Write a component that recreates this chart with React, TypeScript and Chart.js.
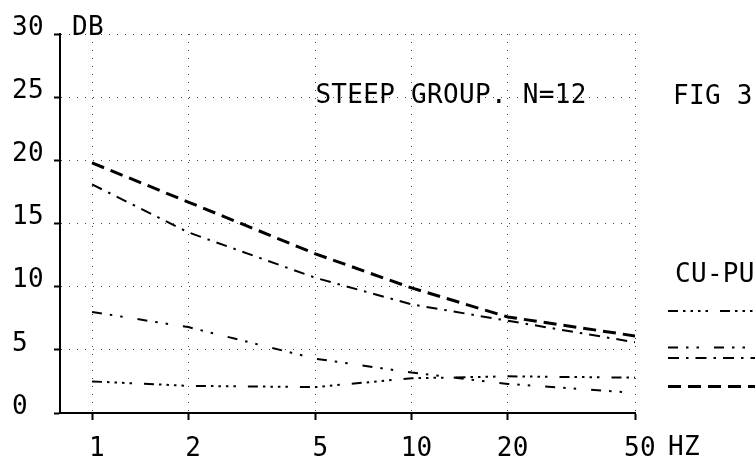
import React, { useEffect, useRef } from 'react';
import { Chart, registerables } from 'chart.js';

Chart.register(...registerables);

// ---- data ----
const frequencies = [1, 2, 5, 10, 20, 50];
const xTickValues = [1, 2, 5, 10, 20, 50];
const seriesLongDash = [19.8, 16.7, 12.6, 9.9, 7.6, 6.1];
const seriesDashDot = [18.1, 14.3, 10.7, 8.6, 7.3, 5.6];
const seriesDashDotDot = [8.0, 6.8, 4.3, 3.2, 2.3, 1.6];
const seriesDotted = [2.5, 2.15, 2.05, 2.75, 2.9, 2.8];
const yUnit = 'DB';
const xUnit = 'HZ';
const titleText = 'STEEP GROUP. N=12';
const figText = 'FIG 3';
const legendTitle = 'CU-PU';

const FONT = '"DejaVu Sans Mono", "Liberation Mono", monospace';
const FSIZE = 26;
const SPACING = '0.3px';

export default function App() {
  const ref = useRef<HTMLCanvasElement>(null);

  useEffect(() => {
    if (!ref.current) return;
    const mk = (label: string, vals: number[], dash: number[], width: number) => ({
      label,
      data: frequencies.map((f, i) => ({ x: f, y: vals[i] })),
      borderColor: '#000',
      backgroundColor: '#000',
      borderWidth: width,
      borderDash: dash,
      pointRadius: 0,
      tension: 0,
      fill: false,
      showLine: true,
    });

    const datasets = [
      mk('long', seriesLongDash, [13, 7], 3),
      mk('dashdot', seriesDashDot, [11, 7, 2.5, 7], 2),
      mk('dashdotdot', seriesDashDotDot, [10, 8, 2.5, 8, 2.5, 15], 2),
      mk('dotted', seriesDotted, [10, 5, 2.5, 5, 2.5, 5, 2.5, 5, 2.5, 12], 2),
    ];

    const plotterPlugin = {
      id: 'plotter',
      beforeDraw(chart: any) {
        const c = chart.ctx;
        c.save();
        c.fillStyle = '#fff';
        c.fillRect(0, 0, chart.width, chart.height);
        c.restore();
        (c as any).letterSpacing = SPACING;
      },
      afterDraw(chart: any) {
        const c = chart.ctx;
        const xs = chart.scales.x;
        const ys = chart.scales.y;
        c.save();
        (c as any).letterSpacing = SPACING;
        c.fillStyle = '#000';
        c.font = `${FSIZE}px ${FONT}`;
        c.textBaseline = 'alphabetic';
        c.textAlign = 'left';
        // axis units
        c.fillText(yUnit, xs.left + 12, ys.getPixelForValue(30) + 1);
        c.fillText(xUnit, xs.getPixelForValue(50) + 33, 455);
        // annotations
        c.fillText(titleText, xs.getPixelForValue(5), ys.getPixelForValue(25) + 6);
        c.fillText(figText, 673, ys.getPixelForValue(25) + 7);
        c.fillText(legendTitle, 675, 282);
        // legend samples
        const rows = [
          { ds: 3, y: 311 },
          { ds: 2, y: 347.5 },
          { ds: 1, y: 358 },
          { ds: 0, y: 386.5 },
        ];
        rows.forEach((r) => {
          const d: any = chart.data.datasets[r.ds];
          c.beginPath();
          c.setLineDash(d.borderDash);
          c.lineWidth = d.borderWidth;
          c.strokeStyle = '#000';
          c.moveTo(668, r.y);
          c.lineTo(755, r.y);
          c.stroke();
        });
        c.restore();
      },
    };

    const chart = new Chart(ref.current, {
      type: 'scatter',
      data: { datasets: datasets as any },
      options: {
        animation: false,
        responsive: false,
        maintainAspectRatio: false,
        layout: { padding: { left: 12, right: 120, top: 34, bottom: 0 } },
        plugins: {
          legend: { display: false },
          tooltip: { enabled: false },
          title: { display: false },
        },
        scales: {
          x: {
            type: 'logarithmic',
            min: 0.794,
            max: 50,
            afterBuildTicks: (scale: any) => {
              scale.ticks = xTickValues.map((v) => ({ value: v }));
            },
            afterFit: (scale: any) => {
              scale.height = 47;
            },
            ticks: {
              autoSkip: false,
              maxRotation: 0,
              color: '#000',
              padding: 16,
              labelOffset: 5,
              font: { family: FONT, size: FSIZE, lineHeight: 1 },
              callback: (v: any) => String(v),
            },
            grid: {
              color: '#444',
              lineWidth: 1,
              drawTicks: true,
              tickLength: 7,
              tickColor: '#000',
              tickWidth: 2,
              tickBorderDash: [],
            },
            border: { display: true, color: '#000', width: 2, dash: [1, 7] },
          },
          y: {
            type: 'linear',
            min: 0,
            max: 30,
            afterFit: (scale: any) => {
              scale.width = 48;
            },
            ticks: {
              stepSize: 5,
              color: '#000',
              crossAlign: 'far',
              labelOffset: -6,
              font: { family: FONT, size: FSIZE, lineHeight: 1 },
            },
            grid: {
              color: '#444',
              lineWidth: 1,
              drawTicks: true,
              tickLength: 6,
              tickColor: '#000',
              tickWidth: 2,
              tickBorderDash: [],
            },
            border: { display: true, color: '#000', width: 2, dash: [1, 7] },
          },
        },
      },
      plugins: [plotterPlugin],
    } as any);

    return () => chart.destroy();
  }, []);

  return (
    <div style={{ position: 'absolute', left: 0, top: 0, width: 755, height: 460, background: '#fff' }}>
      <canvas ref={ref} width={755} height={460} style={{ display: 'block' }} />
    </div>
  );
}
